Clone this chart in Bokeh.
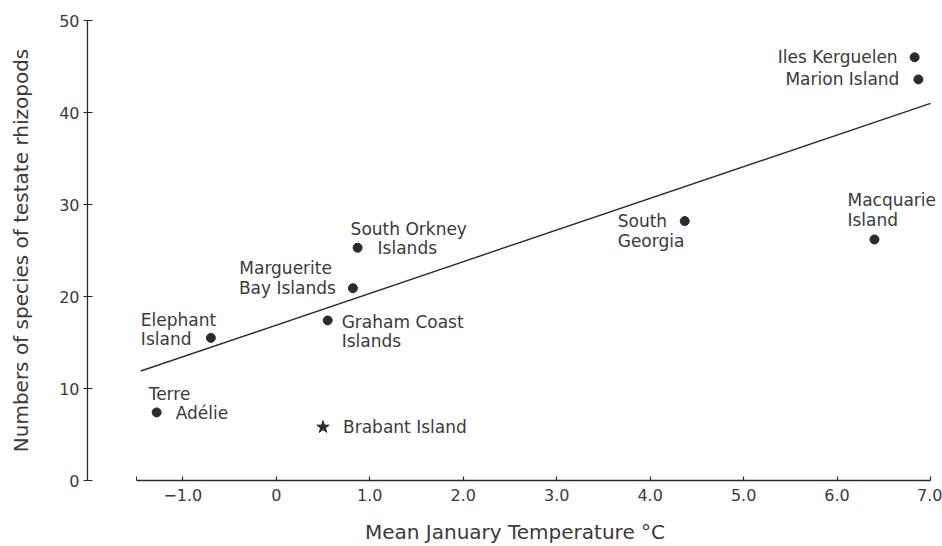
from bokeh.plotting import figure
from bokeh.models import FixedTicker, Range1d, ColumnDataSource
from bokeh.core.properties import value
from bokeh.embed import file_html
from bokeh.resources import INLINE

# ---- data ----
sites = ["Iles Kerguelen", "Marion Island", "South Georgia", "Macquarie Island",
         "South Orkney Islands", "Marguerite Bay Islands", "Graham Coast Islands",
         "Elephant Island", "Terre Adélie"]
temps = [6.83, 6.87, 4.37, 6.40, 0.87, 0.82, 0.55, -0.70, -1.28]
species = [46.0, 43.6, 28.2, 26.2, 25.3, 20.9, 17.4, 15.5, 7.4]

star_site = ["Brabant Island"]
star_temp = [0.50]
star_species = [5.8]

fit_temp = [-1.45, 7.0]
fit_species = [11.9, 41.0]

x_ticks = [-1, 0, 1, 2, 3, 4, 5, 6, 7]
x_tick_labels = ["\u22121.0", "0", "1.0", "2.0", "3.0", "4.0", "5.0", "6.0", "7.0"]
y_ticks = [0, 10, 20, 30, 40, 50]

# ---- label layout (point index, line text, dx, dy, align) ----
label_layout = [
    (0, "Iles Kerguelen", -17, 0, "right"),
    (1, "Marion Island", -19, 0, "right"),
    (2, "South", -67, 0, "left"),
    (2, "Georgia", -67, 20, "left"),
    (3, "Macquarie", -27, -39, "left"),
    (3, "Island", -27, -19, "left"),
    (4, "South Orkney", -7, -19, "left"),
    (4, "Islands", 20, 0, "left"),
    (5, "Marguerite", -21, -20, "right"),
    (5, "Bay Islands", -17, 0, "right"),
    (6, "Graham Coast", 14, 2, "left"),
    (6, "Islands", 14, 21, "left"),
    (7, "Elephant", -70, -18, "left"),
    (7, "Island", -70, 1, "left"),
    (8, "Terre", -8, -18, "left"),
    (8, "Adélie", 19, 1, "left"),
]

FONT = "DejaVu Sans"
TXT = "#3a3a3a"
INK = "#2b2b2b"

p = figure(width=942, height=546, output_backend="svg", toolbar_location=None,
           x_range=Range1d(-2.02, 7.128), y_range=Range1d(0, 50),
           min_border_left=87, min_border_right=0, min_border_top=20,
           min_border_bottom=66)
p.outline_line_color = None
p.grid.visible = False
p.background_fill_color = "white"
p.border_fill_color = "white"

# regression line
p.line(fit_temp, fit_species, line_color=INK, line_width=1.4)

# points
src = ColumnDataSource(dict(x=temps, y=species, name=sites))
p.scatter("x", "y", source=src, size=9, color=INK)
p.scatter(star_temp, star_species, marker="star", size=13, color=INK)

# labels
for idx, txt, dx, dy, align in label_layout:
    p.text(x=[temps[idx]], y=[species[idx]], text=[txt], x_offset=dx, y_offset=dy,
           text_align=align, text_baseline="middle", text_font=value(FONT),
           text_font_size="17px", text_color=TXT)
p.text(x=star_temp, y=star_species, text=star_site, x_offset=20, y_offset=0,
       text_align="left", text_baseline="middle", text_font=value(FONT),
       text_font_size="17px", text_color=TXT)

# axes
xa = p.xaxis[0]
xa.ticker = FixedTicker(ticks=x_ticks, minor_ticks=[-1.5])
xa.major_label_overrides = {t: l for t, l in zip(x_ticks, x_tick_labels)}
xa.bounds = (-1.5, 7.0)
xa.major_tick_in = 4
xa.major_tick_out = 0
xa.minor_tick_in = 4
xa.minor_tick_out = 0
xa.major_label_standoff = 8
xa.axis_label = "Mean January Temperature \u00b0C"
xa.axis_label_standoff = 16

ya = p.yaxis[0]
ya.ticker = FixedTicker(ticks=y_ticks)
ya.bounds = (0, 50)
ya.major_tick_in = 5
ya.major_tick_out = 4
ya.minor_tick_line_color = None
ya.major_label_standoff = 4
ya.axis_label = "Numbers of species of testate rhizopods"
ya.axis_label_standoff = 23

for ax in (xa, ya):
    ax.axis_line_color = INK
    ax.axis_line_width = 1.3
    ax.major_tick_line_color = INK
    ax.major_tick_line_width = 1.2
    ax.minor_tick_line_color = INK if ax is xa else None
    ax.major_label_text_font = FONT
    ax.major_label_text_font_size = "16px"
    ax.major_label_text_color = TXT
    ax.axis_label_text_font = FONT
    ax.axis_label_text_font_size = "20px"
    ax.axis_label_text_font_style = "normal"
    ax.axis_label_text_color = TXT

open("out.html", "w").write(file_html(p, INLINE))
